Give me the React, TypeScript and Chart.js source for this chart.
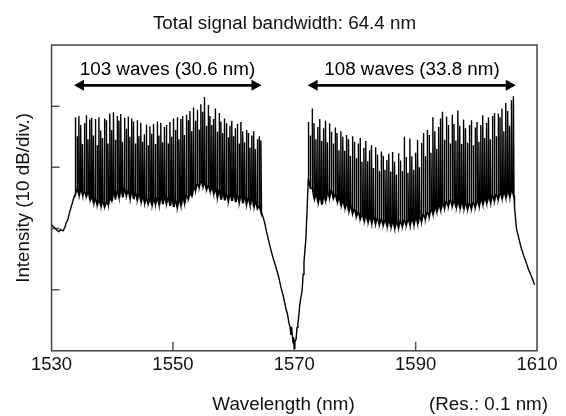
import React, { useEffect, useRef } from "react";
import { Chart, registerables } from "chart.js";

Chart.register(...registerables);

const FONT = "'Liberation Sans', Arial, Helvetica, sans-serif";

const titleText = "Total signal bandwidth: 64.4 nm";
const xAxisLabel = "Wavelength (nm)";
const resolutionLabel = "(Res.: 0.1 nm)";
const yAxisLabel = "Intensity (10 dB/div.)";

const xTickValues = [1530, 1550, 1570, 1590, 1610];
const yTickValues = [10, 20, 30, 40];

// ASE floor before the first band (nm, dB)
const leftEdgeNm = [1530.0, 1530.3, 1530.7, 1531.0, 1531.2, 1531.5, 1531.9, 1532.2, 1532.4, 1532.7, 1532.9, 1533.2, 1533.5, 1533.7];
const leftEdgeDb = [20.6, 20.3, 19.9, 19.6, 19.5, 19.8, 19.6, 20.2, 20.9, 21.5, 22.4, 23.4, 24.4, 25.2];

// Band 1: 103 channels
const leftBandStartNm = 1533.9;
const leftBandSpacingNm = 0.3;
const leftPeaksDb = [
  38.2, 35.1, 38.4, 36.9, 33.8, 37.2, 38.5, 34.6, 37.8, 38.1,
  35.2, 37.9, 33.6, 38.2, 36.0, 34.8, 38.0, 37.7, 33.9, 38.8,
  36.1, 39.0, 34.5, 38.4, 37.6, 38.7, 34.2, 38.1, 36.3, 38.3,
  35.0, 38.0, 37.5, 33.9, 37.7, 35.1, 37.3, 34.2, 35.4, 37.0,
  33.6, 36.7, 35.5, 37.1, 33.8, 37.5, 35.2, 37.3, 34.1, 36.6,
  36.9, 33.9, 37.4, 35.0, 38.0, 36.1, 38.2, 34.6, 37.9, 38.4,
  35.3, 38.6, 37.7, 39.2, 35.9, 39.8, 37.6, 39.4, 36.2, 40.3,
  39.1, 41.5, 36.8, 40.2, 38.4, 36.9, 37.9, 39.6, 35.8, 38.9,
  37.5, 35.6, 38.0, 37.2, 34.9, 36.8, 37.6, 35.1, 36.4, 37.1,
  33.9, 37.4, 35.9, 34.1, 36.1, 35.6, 33.2, 35.2, 35.9, 33.0,
  34.6, 35.1, 34.4,
];
const leftFloorsDb = [
  25.6, 26.4, 25.5, 26.3, 25.4, 26.1, 25.2, 25.9, 24.6, 25.1,
  24.1, 24.9, 23.8, 24.6, 23.6, 24.4, 23.5, 24.2, 23.9, 24.9,
  24.5, 25.9, 24.8, 26.1, 25.0, 26.4, 25.1, 26.5, 25.3, 26.2,
  25.0, 26.0, 24.8, 25.9, 24.6, 25.6, 24.3, 25.1, 24.2, 24.9,
  24.0, 24.8, 23.8, 24.7, 23.9, 25.0, 23.8, 25.2, 24.0, 25.1,
  24.0, 25.0, 23.7, 24.8, 23.5, 24.7, 23.4, 24.6, 23.7, 25.0,
  24.1, 25.4, 24.8, 25.7, 25.3, 26.6, 26.2, 27.3, 26.7, 27.8,
  26.8, 27.5, 26.3, 27.0, 26.1, 26.6, 25.7, 26.3, 25.0, 26.2,
  24.7, 25.8, 24.6, 25.7, 24.4, 25.6, 24.5, 25.7, 24.3, 25.5,
  24.2, 25.4, 24.1, 25.2, 23.9, 25.0, 23.8, 24.9, 23.5, 24.3,
  23.2, 23.6, 22.6,
];

// Gap between the bands (nm, dB)
const gapNm = [1564.85, 1565.1, 1565.35, 1565.7, 1566.15, 1566.5, 1566.97, 1567.4, 1567.8, 1568.2, 1568.6, 1568.9, 1569.1, 1569.3, 1569.45, 1569.6, 1569.8, 1569.9, 1570.0, 1570.1, 1570.3, 1570.45, 1570.6, 1570.75, 1570.9, 1571.1, 1571.3, 1571.45, 1571.6, 1571.75, 1571.9, 1572.1];
const gapDb = [21.9, 21.0, 19.8, 18.3, 16.5, 15.2, 13.7, 12.2, 10.4, 8.9, 7.0, 5.9, 4.6, 3.9, 2.6, 3.4, 1.3, 2.2, 0.4, 1.6, 1.9, 3.8, 4.4, 5.8, 7.5, 8.8, 9.9, 12.5, 14.5, 16.4, 18.1, 22.7];

// Band 2: 108 channels
const rightBandStartNm = 1572.3;
const rightBandSpacingNm = 0.316;
const rightPeaksDb = [
  37.4, 35.2, 39.6, 37.2, 34.6, 36.6, 37.9, 34.3, 36.4, 37.6,
  34.1, 37.2, 35.8, 33.9, 36.5, 35.6, 32.8, 35.9, 35.0, 32.7,
  35.3, 34.6, 31.9, 35.1, 34.2, 31.5, 33.9, 34.8, 30.9, 33.2,
  34.3, 31.0, 32.8, 33.6, 29.9, 33.3, 32.1, 29.4, 32.6, 31.9,
  29.6, 31.2, 32.2, 29.3, 32.5, 30.9, 28.8, 32.3, 31.1, 29.4,
  35.0, 31.7, 29.1, 34.7, 31.8, 29.6, 32.4, 34.5, 30.0, 34.0,
  35.6, 31.8, 36.1, 35.3, 32.4, 38.2, 35.9, 33.0, 36.6, 38.0,
  39.1, 34.5, 38.3, 36.9, 33.9, 38.6, 37.1, 34.4, 39.3, 36.8,
  33.8, 37.8, 36.4, 34.0, 36.9, 37.7, 33.6, 36.5, 37.4, 34.2,
  36.9, 38.5, 34.8, 37.3, 38.2, 34.6, 38.4, 38.9, 35.1, 38.8,
  38.2, 39.6, 35.9, 40.5, 39.2, 36.8, 41.0, 41.6,
];
const rightFloorsDb = [
  28.0, 26.6, 26.5, 24.8, 25.5, 24.2, 25.1, 23.9, 25.2, 24.5,
  25.8, 25.0, 26.2, 24.9, 25.6, 24.3, 25.0, 23.7, 24.5, 23.3,
  24.1, 22.8, 23.6, 22.4, 23.2, 21.9, 22.7, 21.5, 22.3, 21.2,
  22.1, 21.0, 21.9, 20.9, 21.8, 20.7, 21.7, 20.6, 21.5, 20.5,
  21.4, 20.3, 21.3, 20.2, 21.1, 20.1, 21.0, 20.1, 21.2, 20.3,
  21.4, 20.5, 21.5, 20.6, 21.6, 20.7, 21.8, 20.8, 21.9, 21.1,
  22.3, 21.5, 22.7, 21.9, 23.1, 22.3, 23.5, 22.7, 23.9, 23.0,
  24.1, 23.3, 24.4, 23.6, 24.7, 23.6, 24.5, 23.4, 24.4, 23.3,
  24.3, 23.2, 24.2, 23.1, 24.1, 23.2, 24.3, 23.4, 24.5, 23.7,
  24.8, 23.9, 25.0, 24.1, 25.2, 24.3, 25.4, 24.5, 25.6, 24.7,
  25.8, 24.9, 26.0, 25.0, 26.1, 25.2, 26.3, 25.4,
];

// ASE tail after the second band (nm, dB)
const tailNm = [1606.3, 1606.45, 1606.6, 1607.0, 1607.4, 1607.8, 1608.2, 1608.6, 1609.0, 1609.3, 1609.6];
const tailDb = [23.4, 21.8, 20.1, 18.4, 16.8, 15.6, 14.5, 13.3, 12.4, 11.6, 10.8];

// Annotations (in data units)
const annotationLabels = ["103 waves (30.6 nm)", "108 waves (33.8 nm)"];
const annotationFromNm = [1533.7, 1572.2];
const annotationToNm = [1564.6, 1606.5];
const annotationTextNm = [1549.1, 1589.4];
const annotationArrowDb = 43.4;
const annotationTextDb = 46.0;

type Pt = { x: number; y: number };

function edgePoints(nm: number[], db: number[]): Pt[] {
  return nm.map((x, i) => ({ x, y: db[i] }));
}

function bandPoints(start: number, spacing: number, peaks: number[], floors: number[]): Pt[] {
  const pts: Pt[] = [];
  for (let i = 0; i < peaks.length; i++) {
    const x = start + i * spacing;
    pts.push({ x, y: floors[i] });
    pts.push({ x, y: peaks[i] });
    pts.push({ x: x + 0.1, y: floors[i] });
  }
  return pts;
}

const framePlugin = {
  id: "frame",
  beforeDatasetsDraw(chart: any) {
    const { ctx, chartArea, scales } = chart;
    const xs = scales.x;
    const ys = scales.y;
    ctx.save();
    ctx.strokeStyle = "#555";
    ctx.lineWidth = 1.5;
    ctx.beginPath();
    for (const v of xTickValues) {
      const px = xs.getPixelForValue(v);
      if (px <= chartArea.left + 1 || px >= chartArea.right - 1) continue;
      ctx.moveTo(px, chartArea.bottom);
      ctx.lineTo(px, chartArea.bottom - 9);
    }
    for (const v of yTickValues) {
      const py = ys.getPixelForValue(v);
      ctx.moveTo(chartArea.left, py);
      ctx.lineTo(chartArea.left + 8, py);
    }
    ctx.stroke();
    ctx.restore();
  },
  afterDatasetsDraw(chart: any) {
    const { ctx, chartArea, scales } = chart;
    const xs = scales.x;
    const ys = scales.y;
    ctx.save();
    // frame
    ctx.strokeStyle = "#444";
    ctx.lineWidth = 1.5;
    ctx.strokeRect(chartArea.left, chartArea.top, chartArea.right - chartArea.left, chartArea.bottom - chartArea.top);

    ctx.font = `18.8px ${FONT}`;
    ctx.textBaseline = "middle";

    // title (centred on the whole figure)
    ctx.fillStyle = "#111";
    ctx.textAlign = "center";
    ctx.fillText(titleText, chart.width / 2 + 1.5, chartArea.top - 21.5);

    // annotations
    ctx.fillStyle = "#000";
    ctx.strokeStyle = "#000";
    const ay = ys.getPixelForValue(annotationArrowDb);
    const ty = ys.getPixelForValue(annotationTextDb);
    const head = 10;
    const half = 5.5;
    annotationLabels.forEach((label, i) => {
      const x0 = xs.getPixelForValue(annotationFromNm[i]);
      const x1 = xs.getPixelForValue(annotationToNm[i]);
      ctx.lineWidth = 2.6;
      ctx.beginPath();
      ctx.moveTo(x0 + head - 1, ay);
      ctx.lineTo(x1 - head + 1, ay);
      ctx.stroke();
      ctx.beginPath();
      ctx.moveTo(x0, ay);
      ctx.lineTo(x0 + head, ay - half);
      ctx.lineTo(x0 + head, ay + half);
      ctx.closePath();
      ctx.fill();
      ctx.beginPath();
      ctx.moveTo(x1, ay);
      ctx.lineTo(x1 - head, ay - half);
      ctx.lineTo(x1 - head, ay + half);
      ctx.closePath();
      ctx.fill();
      ctx.fillText(label, xs.getPixelForValue(annotationTextNm[i]), ty);
    });

    // bottom labels
    const by = chartArea.bottom + 54;
    ctx.fillStyle = "#111";
    ctx.textAlign = "center";
    ctx.fillText(xAxisLabel, chart.width / 2 + 0.5, by);
    ctx.textAlign = "right";
    ctx.fillText(resolutionLabel, chart.width - 18, by);
    ctx.restore();
  },
};

export default function App() {
  const canvasRef = useRef<HTMLCanvasElement | null>(null);

  useEffect(() => {
    const canvas = canvasRef.current;
    if (!canvas) return;
    const data: Pt[] = [
      ...edgePoints(leftEdgeNm, leftEdgeDb),
      ...bandPoints(leftBandStartNm, leftBandSpacingNm, leftPeaksDb, leftFloorsDb),
      ...edgePoints(gapNm, gapDb),
      ...bandPoints(rightBandStartNm, rightBandSpacingNm, rightPeaksDb, rightFloorsDb),
      ...edgePoints(tailNm, tailDb),
    ];
    const chart = new Chart(canvas, {
      type: "scatter",
      data: {
        datasets: [
          {
            data,
            showLine: true,
            borderColor: "#000",
            borderWidth: 1.4,
            pointRadius: 0,
            pointHoverRadius: 0,
            tension: 0,
          } as any,
        ],
      },
      options: {
        animation: false,
        responsive: false,
        devicePixelRatio: 1,
        events: [],
        layout: { padding: { left: 0, right: 29, top: 45, bottom: 37 } },
        font: { family: FONT },
        plugins: {
          legend: { display: false },
          tooltip: { enabled: false },
          title: { display: false },
        },
        scales: {
          x: {
            type: "linear",
            min: 1530,
            max: 1610,
            afterBuildTicks: (scale: any) => {
              scale.ticks = xTickValues.map((v) => ({ value: v }));
            },
            grid: { display: false, drawTicks: false },
            border: { display: false },
            ticks: {
              color: "#111",
              font: { family: FONT, size: 18.5 },
              padding: 3,
              maxRotation: 0,
              autoSkip: false,
              callback: (v: any) => String(v),
            },
          },
          y: {
            type: "linear",
            min: 0,
            max: 50,
            grid: { display: false, drawTicks: false },
            border: { display: false },
            ticks: { display: false },
            title: {
              display: true,
              text: yAxisLabel,
              color: "#111",
              font: { family: FONT, size: 18.8 },
              padding: { top: 13, bottom: 16 },
            },
          },
        },
      } as any,
      plugins: [framePlugin],
    });
    return () => chart.destroy();
  }, []);

  return (
    <div style={{ position: "fixed", left: 0, top: 0, width: 566, height: 416, background: "#fff" }}>
      <canvas ref={canvasRef} width={566} height={416} style={{ width: 566, height: 416 }} />
    </div>
  );
}
